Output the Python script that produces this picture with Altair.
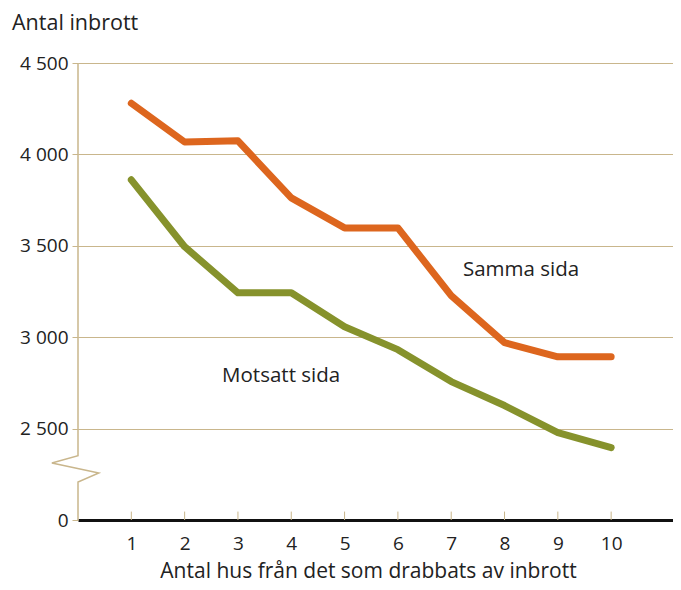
import altair as alt
import pandas as pd

hus = [1, 2, 3, 4, 5, 6, 7, 8, 9, 10]
samma_sida = [4280, 4068, 4074, 3762, 3598, 3598, 3227, 2970, 2893, 2893]
motsatt_sida = [3861, 3495, 3243, 3243, 3057, 2932, 2757, 2626, 2478, 2396]
y_ticks = [2000, 2500, 3000, 3500, 4000, 4500]

FONT = "Open Sans"
TAN = "#C9B68C"
ORANGE = "#DD661E"
GREEN = "#86922C"
TXT = "#222222"

W, H = 595, 457
xscale = alt.Scale(domain=[0, 11.16], nice=False, zero=False)
yscale = alt.Scale(domain=[2000, 4500], nice=False, zero=False)

df = pd.DataFrame({
    "hus": hus * 2,
    "antal": samma_sida + motsatt_sida,
    "serie": ["Samma sida"] * 10 + ["Motsatt sida"] * 10,
})

base = alt.Chart(df)

lines = base.mark_line(strokeWidth=7, strokeCap="round", strokeJoin="round").encode(
    x=alt.X("hus:Q", scale=xscale,
            axis=alt.Axis(values=hus, ticks=False, grid=False, domainColor="#111111", domainWidth=3,
                          labelFontSize=19, labelFont=FONT, labelColor=TXT, labelPadding=14,
                          title="Antal hus från det som drabbats av inbrott", titleFont=FONT,
                          titleFontSize=21, titleFontWeight="normal", titleColor=TXT,
                          titleBaseline="alphabetic", titleY=57, titleX=290)),
    y=alt.Y("antal:Q", scale=yscale,
            axis=alt.Axis(values=y_ticks, domain=False, grid=True, gridColor=TAN, gridWidth=1,
                          tickColor=TAN, tickSize=6, labelFontSize=19, labelFont=FONT,
                          labelColor=TXT, labelPadding=4, title=None,
                          labelExpr="datum.value == 2000 ? '0' : replace(format(datum.value, ','), ',', ' ')")),
    color=alt.Color("serie:N", scale=alt.Scale(domain=["Samma sida", "Motsatt sida"], range=[ORANGE, GREEN]),
                    legend=None),
    detail="serie:N",
)

tick_df = pd.DataFrame({"hus": hus, "y0": [2000] * 10, "y1": [2046] * 10})
xticks = alt.Chart(tick_df).mark_rule(color=TAN, strokeWidth=1).encode(
    x=alt.X("hus:Q", scale=xscale), y=alt.Y("y0:Q", scale=yscale), y2="y1:Q"
)

brk_df = pd.DataFrame({
    "o": [0, 1, 2, 3, 4, 5],
    "bx": [0, 0, -0.49, 0.39, 0, 0],
    "by": [4500, 2352, 2312, 2257, 2208, 2000],
})
yline = alt.Chart(brk_df).mark_line(color=TAN, strokeWidth=1.5, clip=False).encode(
    x=alt.X("bx:Q", scale=xscale), y=alt.Y("by:Q", scale=yscale), order="o:Q"
)

lab_df = pd.DataFrame({
    "lx": [8.31, 3.81],
    "ly": [3368, 2788],
    "txt": ["Samma sida", "Motsatt sida"],
})
labels = alt.Chart(lab_df).mark_text(font=FONT, fontSize=20.5, color=TXT, align="center",
                                     baseline="middle").encode(
    x=alt.X("lx:Q", scale=xscale), y=alt.Y("ly:Q", scale=yscale), text="txt:N"
)

chart = alt.layer(lines, xticks, yline, labels).properties(
    width=W, height=H,
    autosize=alt.AutoSizeParams(type="none"),
    padding={"left": 70, "top": 55, "right": 0, "bottom": 62},
    title=alt.TitleParams("Antal inbrott", anchor="start", frame="group", dx=-66, offset=20,
                          font=FONT, fontSize=21.5, fontWeight="normal", color=TXT),
).configure_view(stroke=None)

chart.save("out.html", embed_options={"renderer": "svg", "actions": False})
